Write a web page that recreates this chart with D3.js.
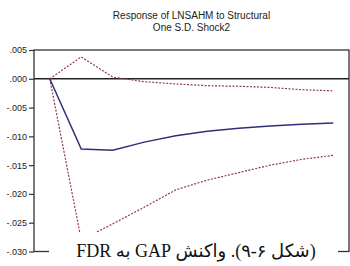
<!DOCTYPE html>
<html>
<head>
<meta charset="utf-8">
<script src="https://cdn.jsdelivr.net/npm/d3@7"></script>
<style>
	body { margin: 0; background: #fff; }
	svg { display: block; }
</style>
</head>
<body>
<div id="chart"></div>
<script>
	// impulse response, periods 1..10
	var periods = [1, 2, 3, 4, 5, 6, 7, 8, 9, 10];
	var response = [0, -0.0122, -0.0124, -0.0110, -0.0099, -0.0091, -0.0086, -0.0082, -0.0079, -0.0077];
	var upperBand = [0, 0.0038, 0.0003, -0.0005, -0.0009, -0.0012, -0.0013, -0.0015, -0.0019, -0.0021];
	var lowerBand = [0, -0.0280, -0.0252, -0.0223, -0.0193, -0.0176, -0.0163, -0.0150, -0.0140, -0.0133];
	var yTicks = [0.005, 0, -0.005, -0.010, -0.015, -0.020, -0.025, -0.030];
	var yTickLabels = [".005", ".000", "-.005", "-.010", "-.015", "-.020", "-.025", "-.030"];
	var titleLines = ["Response of LNSAHM to Structural", "One S.D. Shock2"];
	var caption = "(شکل ۶-۹). واکنش GAP به FDR";

	(function () {
		var width = 350, height = 266;
		var plotLeft = 34, plotRight = 349, plotTop = 50, plotBottom = 251.5;

		var svg = d3.select("#chart")
					.append("svg")
					.attr("width", width)
					.attr("height", height);

		var x = d3.scalePoint()
					.domain(periods)
					.range([plotLeft, plotRight])
					.padding(0.5);

		var y = d3.scaleLinear()
					.domain([-0.030, 0.005])
					.range([plotBottom, plotTop]);

		// title
		svg.selectAll("text.title")
			.data(titleLines)
			.enter()
			.append("text")
			.attr("class", "title")
			.attr("x", (plotLeft + plotRight) / 2)
			.attr("y", function(d, i) { return 19 + i * 12; })
			.attr("text-anchor", "middle")
			.style("font-family", "Liberation Sans, Arial, sans-serif")
			.style("font-size", "10px")
			.style("fill", "#222")
			.text(function(d) { return d; });

		// y axis
		var yAxis = d3.axisLeft(y)
					.tickValues(yTicks)
					.tickSize(5)
					.tickPadding(2)
					.tickFormat(function(d, i) { return yTickLabels[i]; });

		var ga = svg.append("g")
					.attr("transform", "translate(" + plotLeft + ",0)")
					.call(yAxis);
		ga.select(".domain").remove();
		ga.selectAll("line").attr("stroke", "#333").attr("stroke-width", 1.2);
		ga.selectAll("text")
			.style("font-family", "Liberation Sans, Arial, sans-serif")
			.style("font-size", "9px")
			.style("fill", "#222");

		// frame
		svg.append("rect")
			.attr("x", plotLeft)
			.attr("y", plotTop)
			.attr("width", plotRight - plotLeft)
			.attr("height", plotBottom - plotTop)
			.attr("fill", "none")
			.attr("stroke", "#333")
			.attr("stroke-width", 1.3);

		// zero line
		svg.append("line")
			.attr("x1", plotLeft)
			.attr("x2", plotRight)
			.attr("y1", y(0))
			.attr("y2", y(0))
			.attr("stroke", "#222")
			.attr("stroke-width", 1.5);

		var line = d3.line()
					.x(function(d, i) { return x(periods[i]); })
					.y(function(d) { return y(d); });

		svg.selectAll("path.band")
			.data([upperBand, lowerBand])
			.enter()
			.append("path")
			.attr("class", "band")
			.attr("d", line)
			.attr("fill", "none")
			.attr("stroke", "#8a3b4c")
			.attr("stroke-width", 1.2)
			.attr("stroke-dasharray", "2,1.5");

		svg.append("path")
			.attr("d", line(response))
			.attr("fill", "none")
			.attr("stroke", "#2e3178")
			.attr("stroke-width", 1.5);

		// small x ticks peeking out under the caption
		svg.selectAll("line.xtick")
			.data([periods[0], periods[periods.length - 1]])
			.enter()
			.append("line")
			.attr("class", "xtick")
			.attr("x1", function(d) { return x(d); })
			.attr("x2", function(d) { return x(d); })
			.attr("y1", plotBottom)
			.attr("y2", plotBottom + 5)
			.attr("stroke", "#555")
			.attr("stroke-width", 1);

		// caption pasted over the bottom of the chart
		svg.append("rect")
			.attr("x", 49)
			.attr("y", 232)
			.attr("width", 289)
			.attr("height", height - 232)
			.attr("fill", "#fff");

		svg.append("text")
			.attr("x", 196)
			.attr("y", 257)
			.attr("text-anchor", "middle")
			.attr("direction", "rtl")
			.style("font-family", "Liberation Serif, DejaVu Serif, DejaVu Sans, serif")
			.style("font-size", "18px")
			.style("fill", "#111")
			.text(caption);
	})();
</script>
</body>
</html>
